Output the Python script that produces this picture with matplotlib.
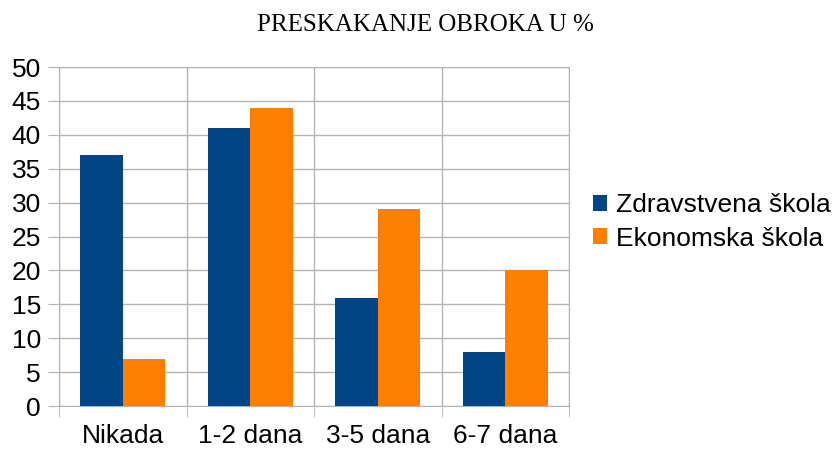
import numpy as np
import matplotlib.pyplot as plt

categories = ["Nikada", "1-2 dana", "3-5 dana", "6-7 dana"]
zdravstvena = [37, 41, 16, 8]
ekonomska = [7, 44, 29, 20]
series_names = ["Zdravstvena škola", "Ekonomska škola"]
colors = ["#004586", "#ff8000"]

fig = plt.figure(figsize=(8.34, 4.5), dpi=100)
ax = fig.add_axes([59 / 834, 44 / 450, 510 / 834, 339 / 450])

x = np.arange(len(categories))
w = 1 / 3
ax.bar(x - w / 2, zdravstvena, w, color=colors[0], label=series_names[0], zorder=3)
ax.bar(x + w / 2, ekonomska, w, color=colors[1], label=series_names[1], zorder=3)

ax.set_xlim(-0.5, len(categories) - 0.5)
ax.set_ylim(0, 50)
ax.set_yticks(range(0, 51, 5))
ax.set_xticks(x)
ax.set_xticklabels(categories)
ax.set_xticks(np.arange(-0.5, len(categories), 1), minor=True)

grid_col = "#b3b3b3"
ax.grid(axis="y", which="major", color=grid_col, linewidth=1, zorder=0)
ax.grid(axis="x", which="minor", color=grid_col, linewidth=1, zorder=0)
for s in ax.spines.values():
    s.set_color(grid_col)
ax.tick_params(axis="x", which="major", length=0, labelsize=19, pad=13)
ax.tick_params(axis="x", which="minor", length=8, color=grid_col, direction="out")
ax.tick_params(axis="y", length=8, color=grid_col, labelsize=19, pad=5)
for lab in ax.get_xticklabels() + ax.get_yticklabels():
    lab.set_fontfamily("Liberation Sans")

fig.text(425 / 834, 1 - 25 / 450, "PRESKAKANJE OBROKA U %", ha="center", va="center",
         fontsize=18, family="Liberation Serif")

fig.legend(loc="center left", bbox_to_anchor=(569 / 834, 1 - 222 / 450), frameon=False,
           prop={"family": "Liberation Sans", "size": 19}, handlelength=0.55, handleheight=0.55,
           handletextpad=0.35, labelspacing=0.35)

fig.savefig("out.png", dpi=100)
